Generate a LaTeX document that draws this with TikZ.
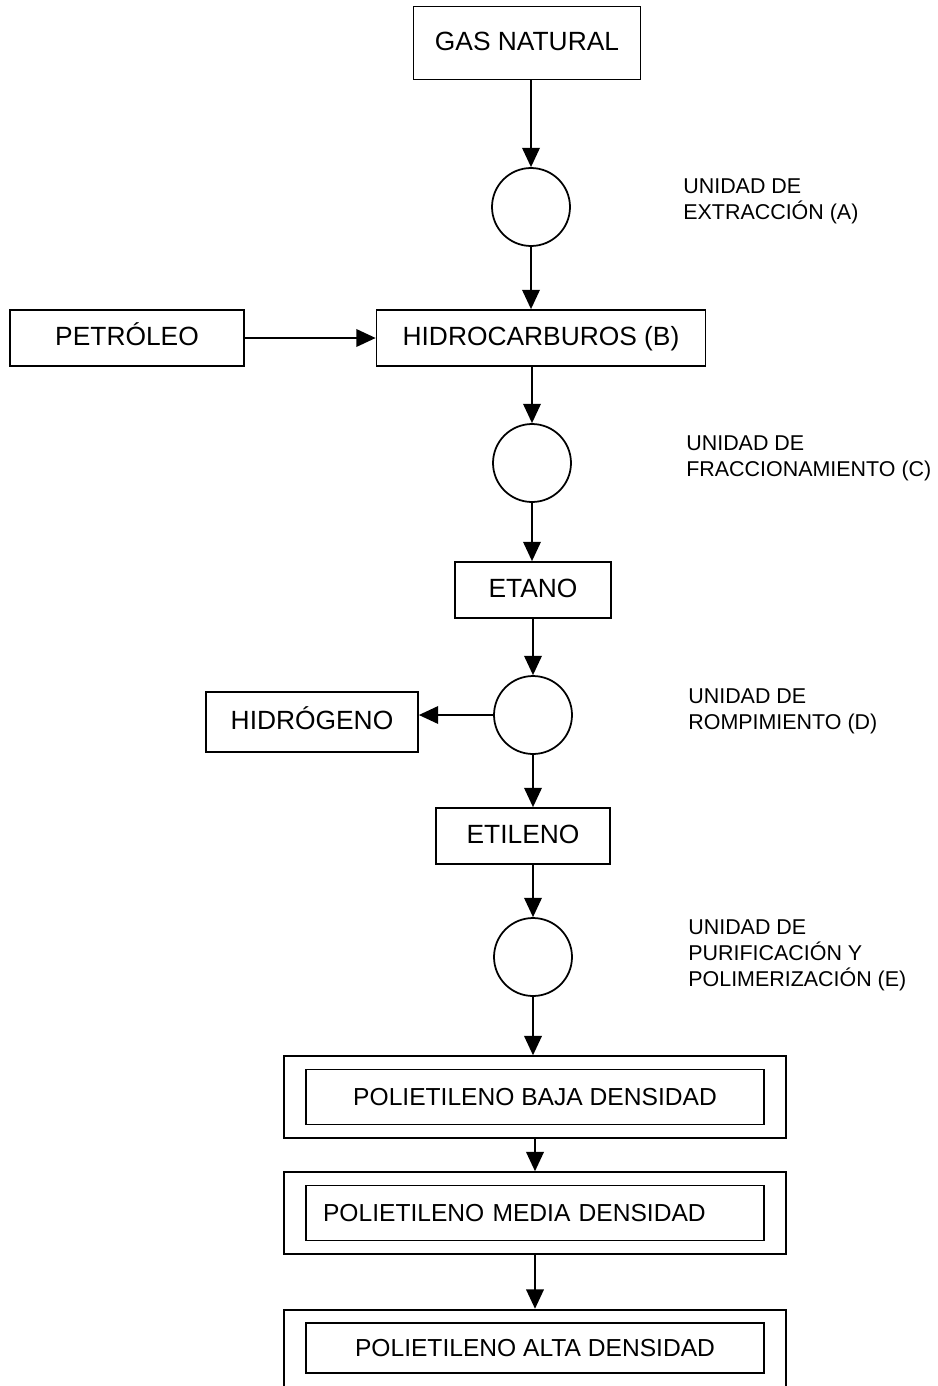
\documentclass[tikz,border=0pt]{standalone}
\usepackage{fontspec}
\setmainfont{Liberation Sans}
\usetikzlibrary{positioning, arrows.meta, fit}

\tikzset{
  box/.style={draw, line width=1pt, minimum height=1.12cm, inner sep=0pt, text height=11pt, text depth=3pt, font=\fontsize{15}{18}\selectfont},
  unit/.style={draw, line width=1pt, circle, minimum size=1.56cm, inner sep=0pt},
  lbl/.style={anchor=north west, align=left, inner sep=0pt, font=\fontsize{12.2}{14.8}\selectfont},
  pebox/.style={draw, line width=1pt, minimum width=9.16cm, minimum height=1.1cm, inner sep=0pt, font=\fontsize{14}{17}\selectfont},
  outerbox/.style={draw, line width=1pt, inner xsep=0.42cm, inner ysep=0.25cm},
  flow/.style={line width=1pt, -{Triangle[length=11pt, width=10pt]}}
}

\begin{document}
\begin{tikzpicture}[x=0.02cm, y=-0.02cm]
  \useasboundingbox (0,0) rectangle (937,1386);
  \clip (0,0) rectangle (937,1386);

  % main line
  \node[box, minimum width=4.54cm, minimum height=1.46cm] (gas) at (527,43) {GAS NATURAL};
  \node[unit] (uA) at (531,207) {};
  \node[box, minimum width=6.58cm] (hidro) at (541,338) {HIDROCARBUROS (B)};
  \node[box, minimum width=4.68cm] (petro) at (127,338) {PETRÓLEO};
  \node[unit] (uC) at (532,463) {};
  \node[box, minimum width=3.12cm] (etano) at (533,590) {ETANO};
  \node[unit] (uD) at (533,715) {};
  \node[box, minimum width=4.24cm, minimum height=1.2cm] (hidrog) at (312,722) {HIDRÓGENO};
  \node[box, minimum width=3.48cm] (etil) at (523,836) {ETILENO};
  \node[unit] (uE) at (533,957) {};

  % unit labels
  \node[lbl] (lA) at (683,178) {UNIDAD DE\\EXTRACCIÓN (A)};
  \node[lbl] (lC) at (686,435) {UNIDAD DE\\FRACCIONAMIENTO (C)};
  \node[lbl] (lD) at (688,688) {UNIDAD DE\\ROMPIMIENTO (D)};
  \node[lbl] (lE) at (688,919) {UNIDAD DE\\PURIFICACIÓN Y\\POLIMERIZACIÓN (E)};

  % products
  \node[pebox] (pbd) at (535,1097) {POLIETILENO BAJA DENSIDAD};
  \node[pebox, text width=8.48cm, inner xsep=0.34cm, align=left] (pmd) at (535,1213) {POLIETILENO MEDIA DENSIDAD};
  \node[pebox, minimum height=1.0cm] (pad) at (535,1348) {POLIETILENO ALTA DENSIDAD};
  \coordinate (cut) at (535,1400);
  \node[outerbox, fit=(pbd)] (o1) {};
  \node[outerbox, fit=(pmd)] (o2) {};
  \node[outerbox, fit=(pad)(cut)] (o3) {};

  % arrows
  \draw[flow] (gas.south -| uA) -- (uA);
  \draw[flow] (uA) -- (uA |- hidro.north);
  \draw[flow] (petro) -- (hidro);
  \draw[flow] (hidro.south -| uC) -- (uC);
  \draw[flow] (uC) -- (uC |- etano.north);
  \draw[flow] (etano.south -| uD) -- (uD);
  \draw[flow] (uD) -- (uD -| hidrog.east);
  \draw[flow] (uD) -- (uD |- etil.north);
  \draw[flow] (etil.south -| uE) -- (uE);
  \draw[flow] (uE) -- (uE |- o1.north);
  \draw[flow] (o1) -- (o2);
  \draw[flow] (o2) -- (o3);
\end{tikzpicture}
\end{document}
